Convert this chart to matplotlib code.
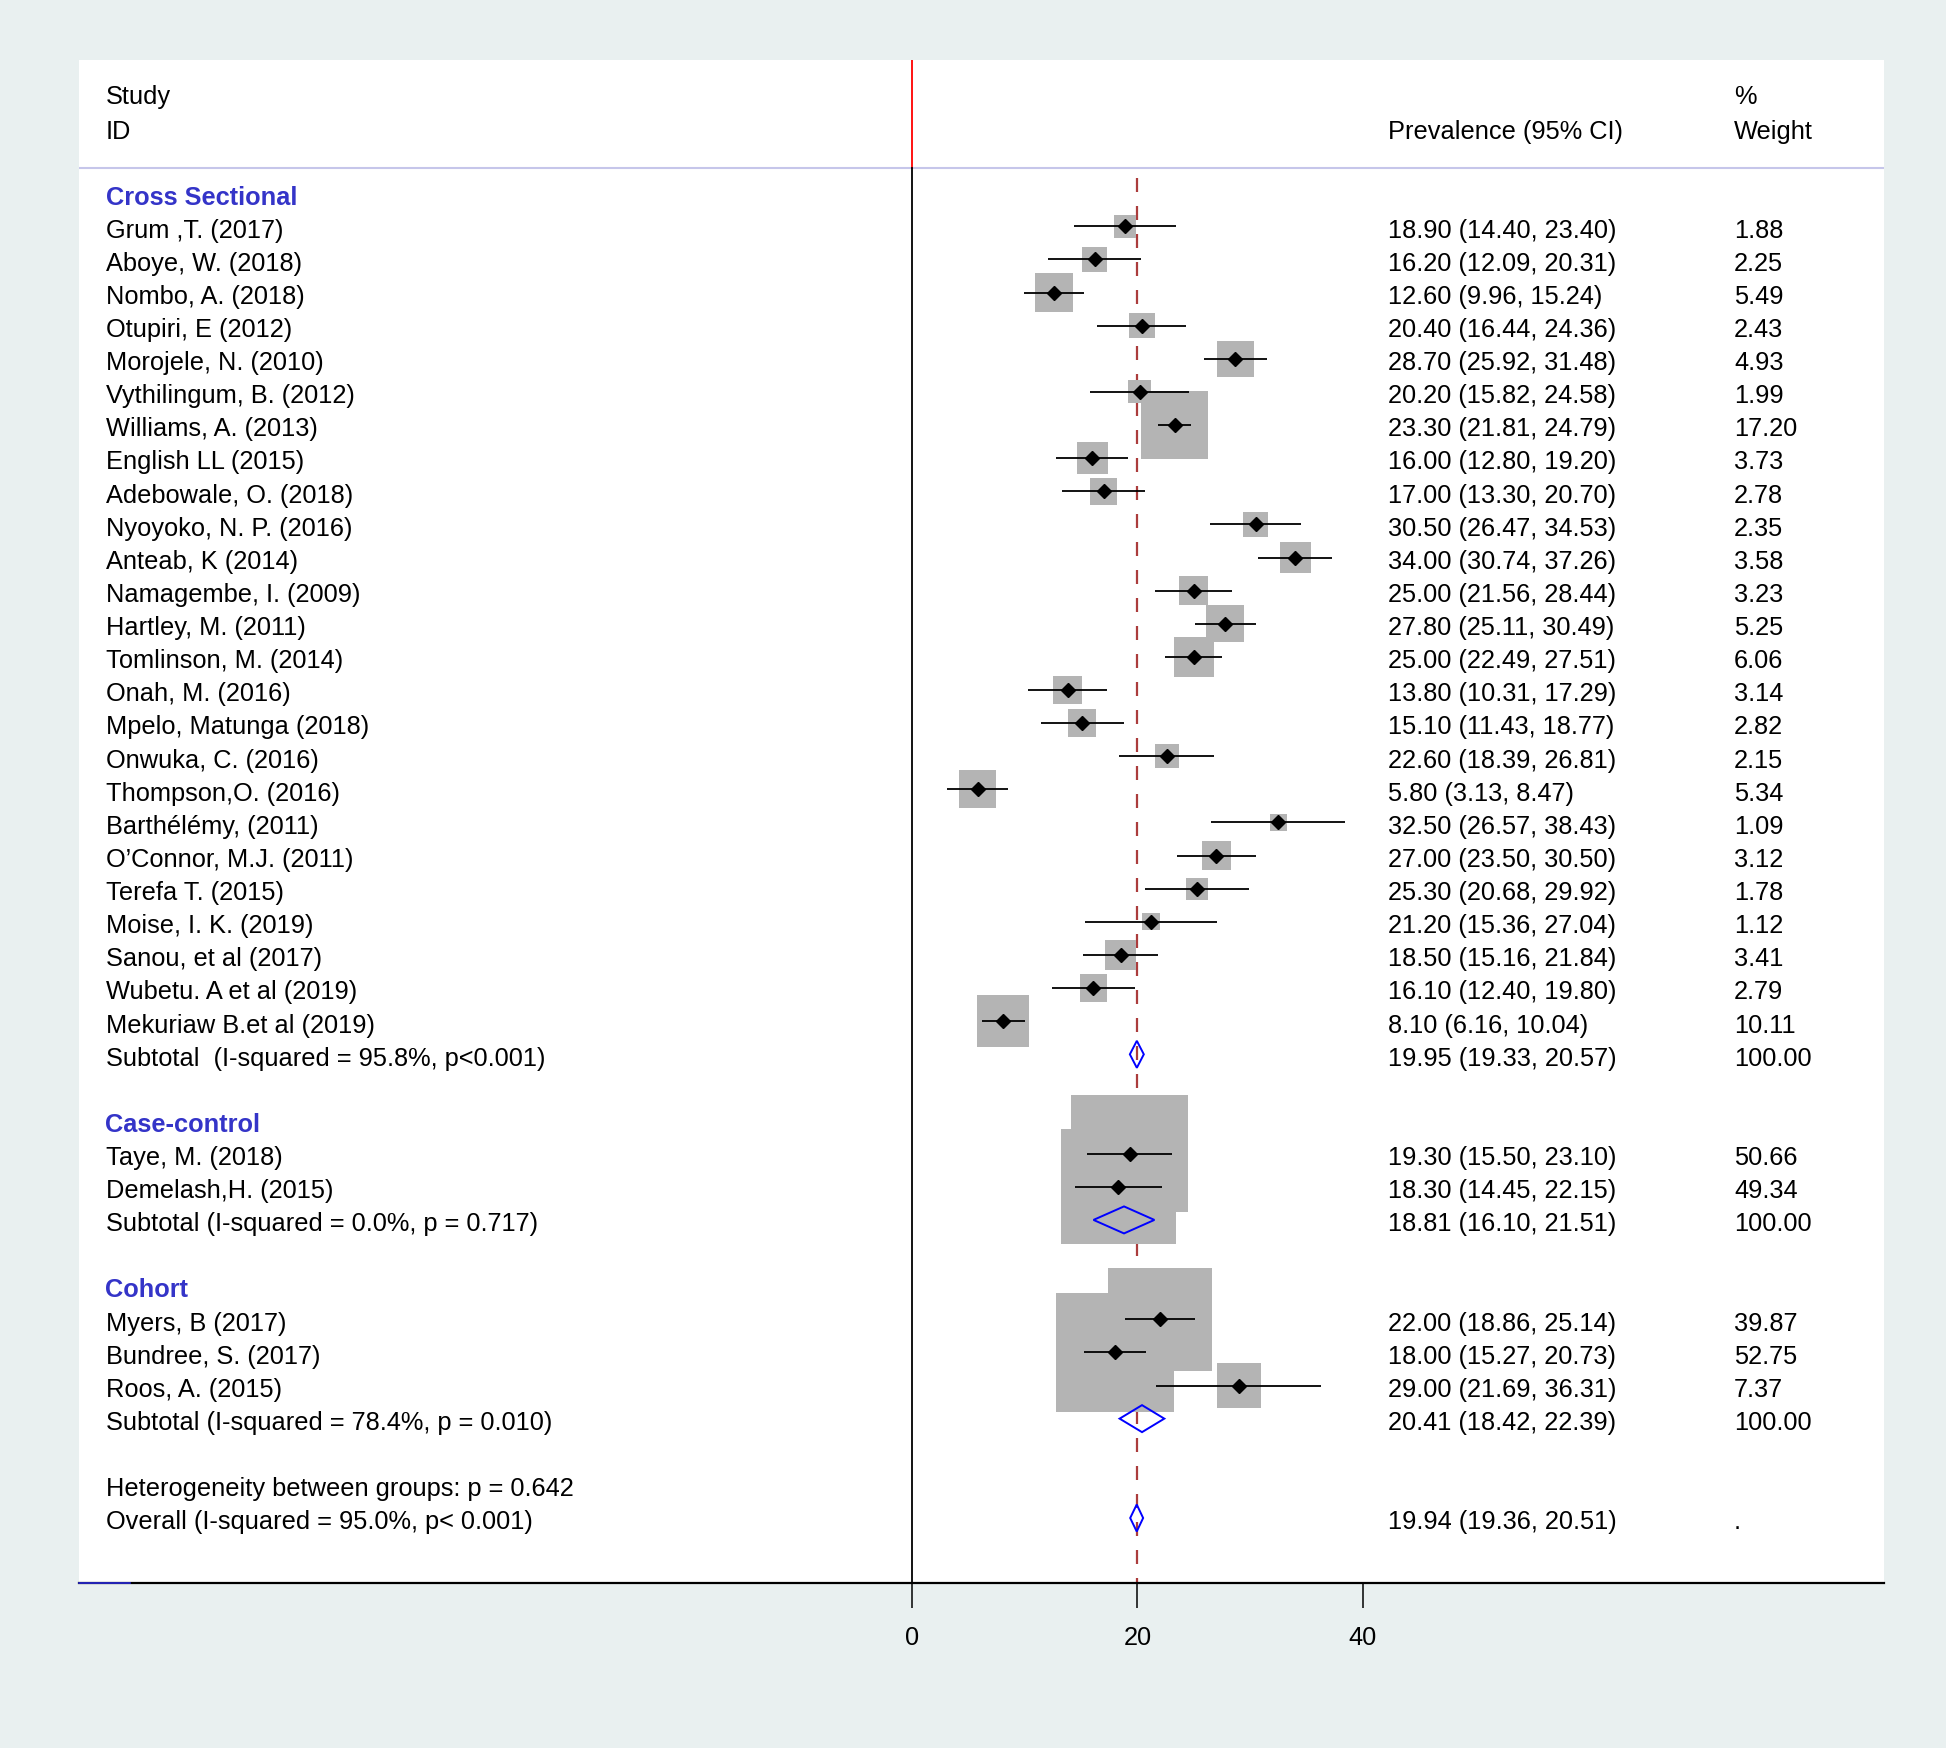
import numpy as np
import matplotlib.pyplot as plt
from matplotlib.patches import Polygon
from matplotlib.transforms import blended_transform_factory

plt.rcParams['font.family'] = ['Liberation Sans', 'DejaVu Sans']

# ---- data ----
group_names = ['Cross Sectional', 'Case-control', 'Cohort']

cs_studies = ['Grum ,T. (2017)', 'Aboye, W. (2018)', 'Nombo, A. (2018)', 'Otupiri, E (2012)',
              'Morojele, N. (2010)', 'Vythilingum, B. (2012)', 'Williams, A. (2013)',
              'English LL (2015)', 'Adebowale, O. (2018)', 'Nyoyoko, N. P. (2016)',
              'Anteab, K (2014)', 'Namagembe, I. (2009)', 'Hartley, M. (2011)',
              'Tomlinson, M. (2014)', 'Onah, M. (2016)', 'Mpelo, Matunga (2018)',
              'Onwuka, C. (2016)', 'Thompson,O. (2016)', 'Barthélémy, (2011)',
              'O\u2019Connor, M.J. (2011)', 'Terefa T. (2015)', 'Moise, I. K. (2019)',
              'Sanou, et al (2017)', 'Wubetu. A et al (2019)', 'Mekuriaw B.et al (2019)']
cs_est = [18.90, 16.20, 12.60, 20.40, 28.70, 20.20, 23.30, 16.00, 17.00, 30.50, 34.00, 25.00,
          27.80, 25.00, 13.80, 15.10, 22.60, 5.80, 32.50, 27.00, 25.30, 21.20, 18.50, 16.10, 8.10]
cs_lo = [14.40, 12.09, 9.96, 16.44, 25.92, 15.82, 21.81, 12.80, 13.30, 26.47, 30.74, 21.56,
         25.11, 22.49, 10.31, 11.43, 18.39, 3.13, 26.57, 23.50, 20.68, 15.36, 15.16, 12.40, 6.16]
cs_hi = [23.40, 20.31, 15.24, 24.36, 31.48, 24.58, 24.79, 19.20, 20.70, 34.53, 37.26, 28.44,
         30.49, 27.51, 17.29, 18.77, 26.81, 8.47, 38.43, 30.50, 29.92, 27.04, 21.84, 19.80, 10.04]
cs_weight = [1.88, 2.25, 5.49, 2.43, 4.93, 1.99, 17.20, 3.73, 2.78, 2.35, 3.58, 3.23, 5.25,
             6.06, 3.14, 2.82, 2.15, 5.34, 1.09, 3.12, 1.78, 1.12, 3.41, 2.79, 10.11]

cc_studies = ['Taye, M. (2018)', 'Demelash,H. (2015)']
cc_est = [19.30, 18.30]
cc_lo = [15.50, 14.45]
cc_hi = [23.10, 22.15]
cc_weight = [50.66, 49.34]

co_studies = ['Myers, B (2017)', 'Bundree, S. (2017)', 'Roos, A. (2015)']
co_est = [22.00, 18.00, 29.00]
co_lo = [18.86, 15.27, 21.69]
co_hi = [25.14, 20.73, 36.31]
co_weight = [39.87, 52.75, 7.37]

sub_labels = ['Subtotal  (I-squared = 95.8%, p<0.001)',
              'Subtotal (I-squared = 0.0%, p = 0.717)',
              'Subtotal (I-squared = 78.4%, p = 0.010)']
sub_est = [19.95, 18.81, 20.41]
sub_lo = [19.33, 16.10, 18.42]
sub_hi = [20.57, 21.51, 22.39]

het_label = 'Heterogeneity between groups: p = 0.642'
overall_label = 'Overall (I-squared = 95.0%, p< 0.001)'
overall_est, overall_lo, overall_hi = 19.94, 19.36, 20.51

xticks = [0, 20, 40]

# ---- layout (pixels of a 1946x1749 figure) ----
W, H = 1946, 1749
PX_LEFT, PX_RIGHT, PX_TOP, PX_BOTTOM = 79, 1884, 61, 1584
PX_ZERO, PX_PER_UNIT = 912.2, 11.26
ROW0, ROW_H = 194.2, 33.12

X0 = (PX_LEFT - PX_ZERO) / PX_PER_UNIT
X1 = (PX_RIGHT - PX_ZERO) / PX_PER_UNIT
Y_TOP = (PX_TOP - ROW0) / ROW_H
Y_BOTTOM = (PX_BOTTOM - ROW0) / ROW_H


def col(px):
    return (px - PX_LEFT) / (PX_RIGHT - PX_LEFT)


COL_LABEL, COL_CI, COL_W = col(105.5), col(1388), col(1734)
FS = 18.3
DY = 0.1           # 文字相对行位置的微小下移
BLUE_HEAD = '#3434c8'
BOX_GREY = '#b4b4b4'
BOX_K = (16.35 * 0.72) ** 2   # 面积与权重成正比
DIA_H = 13.5 / ROW_H

fig = plt.figure(figsize=(W / 100, H / 100), dpi=100, facecolor='#e9f0f0')
ax = fig.add_axes([PX_LEFT / W, 1 - PX_BOTTOM / H, (PX_RIGHT - PX_LEFT) / W,
                   (PX_BOTTOM - PX_TOP) / H], facecolor='white')
ax.set_xlim(X0, X1)
ax.set_ylim(Y_BOTTOM, Y_TOP)
tr = blended_transform_factory(ax.transAxes, ax.transData)


def txt(x, y, s, **kw):
    ax.text(x, y + DY, s, transform=tr, fontsize=FS, va='center', **kw)


# header
sep_row = (169 - ROW0) / ROW_H
head1, head2 = (94 - ROW0) / ROW_H, (128.5 - ROW0) / ROW_H
txt(COL_LABEL, head1, 'Study')
txt(COL_LABEL, head2, 'ID')
txt(COL_CI, head2, 'Prevalence (95% CI)')
txt(COL_W, head1, '%')
txt(COL_W, head2, 'Weight')
ax.plot([0, 1], [sep_row, sep_row], transform=tr, color='#c6c6ea', lw=1.5, zorder=1)

# reference lines
ax.plot([0, 0], [Y_TOP, sep_row], color='red', lw=1.3, zorder=1)
ax.plot([0, 0], [sep_row, Y_BOTTOM], color='black', lw=1.3, zorder=1)
ax.plot([overall_est, overall_est], [-0.45, Y_BOTTOM], color='#ab3c3c', lw=1.6,
        dashes=(6.3, 6.3), zorder=1.5)


def diamond(y, est, lo, hi):
    ax.add_patch(Polygon([[lo, y], [est, y - DIA_H], [hi, y], [est, y + DIA_H]],
                         closed=True, fill=False, edgecolor='blue', lw=1.4, zorder=5))


def ci_text(y, est, lo, hi, w):
    txt(COL_CI, y, '%.2f (%.2f, %.2f)' % (est, lo, hi))
    txt(COL_W, y, w)


blocks = [(cs_studies, cs_est, cs_lo, cs_hi, cs_weight),
          (cc_studies, cc_est, cc_lo, cc_hi, cc_weight),
          (co_studies, co_est, co_lo, co_hi, co_weight)]

row = 0
for g, (studies, est, lo, hi, w) in enumerate(blocks):
    txt(COL_LABEL, row, group_names[g], color=BLUE_HEAD, fontweight='bold')
    row += 1
    ys = np.arange(row, row + len(studies))
    ax.scatter(est, ys, s=BOX_K * np.array(w), marker='s', color=BOX_GREY, linewidths=0, zorder=2)
    ax.hlines(ys, lo, hi, color='black', lw=1.3, zorder=3)
    ax.plot(est, ys, 'D', color='black', ms=7.2, zorder=4)
    for y, name, e, l, h, ww in zip(ys, studies, est, lo, hi, w):
        txt(COL_LABEL, y, name)
        ci_text(y, e, l, h, '%.2f' % ww)
    row += len(studies)
    txt(COL_LABEL, row, sub_labels[g])
    diamond(row, sub_est[g], sub_lo[g], sub_hi[g])
    ci_text(row, sub_est[g], sub_lo[g], sub_hi[g], '100.00')
    row += 2

txt(COL_LABEL, row, het_label)
row += 1
txt(COL_LABEL, row, overall_label)
diamond(row, overall_est, overall_lo, overall_hi)
ci_text(row, overall_est, overall_lo, overall_hi, '.')

# axis
for s in ['top', 'left', 'right']:
    ax.spines[s].set_visible(False)
ax.spines['bottom'].set_linewidth(1.6)
ax.set_yticks([])
ax.set_xticks(xticks)
ax.tick_params(axis='x', length=18, width=1.1, pad=12, labelsize=FS, direction='out')
ax.plot([0, 0.028], [0, 0], transform=ax.transAxes, color='#2b2bd8', lw=1.2, zorder=6, clip_on=False)

fig.savefig('out.png', dpi=100, facecolor=fig.get_facecolor())
